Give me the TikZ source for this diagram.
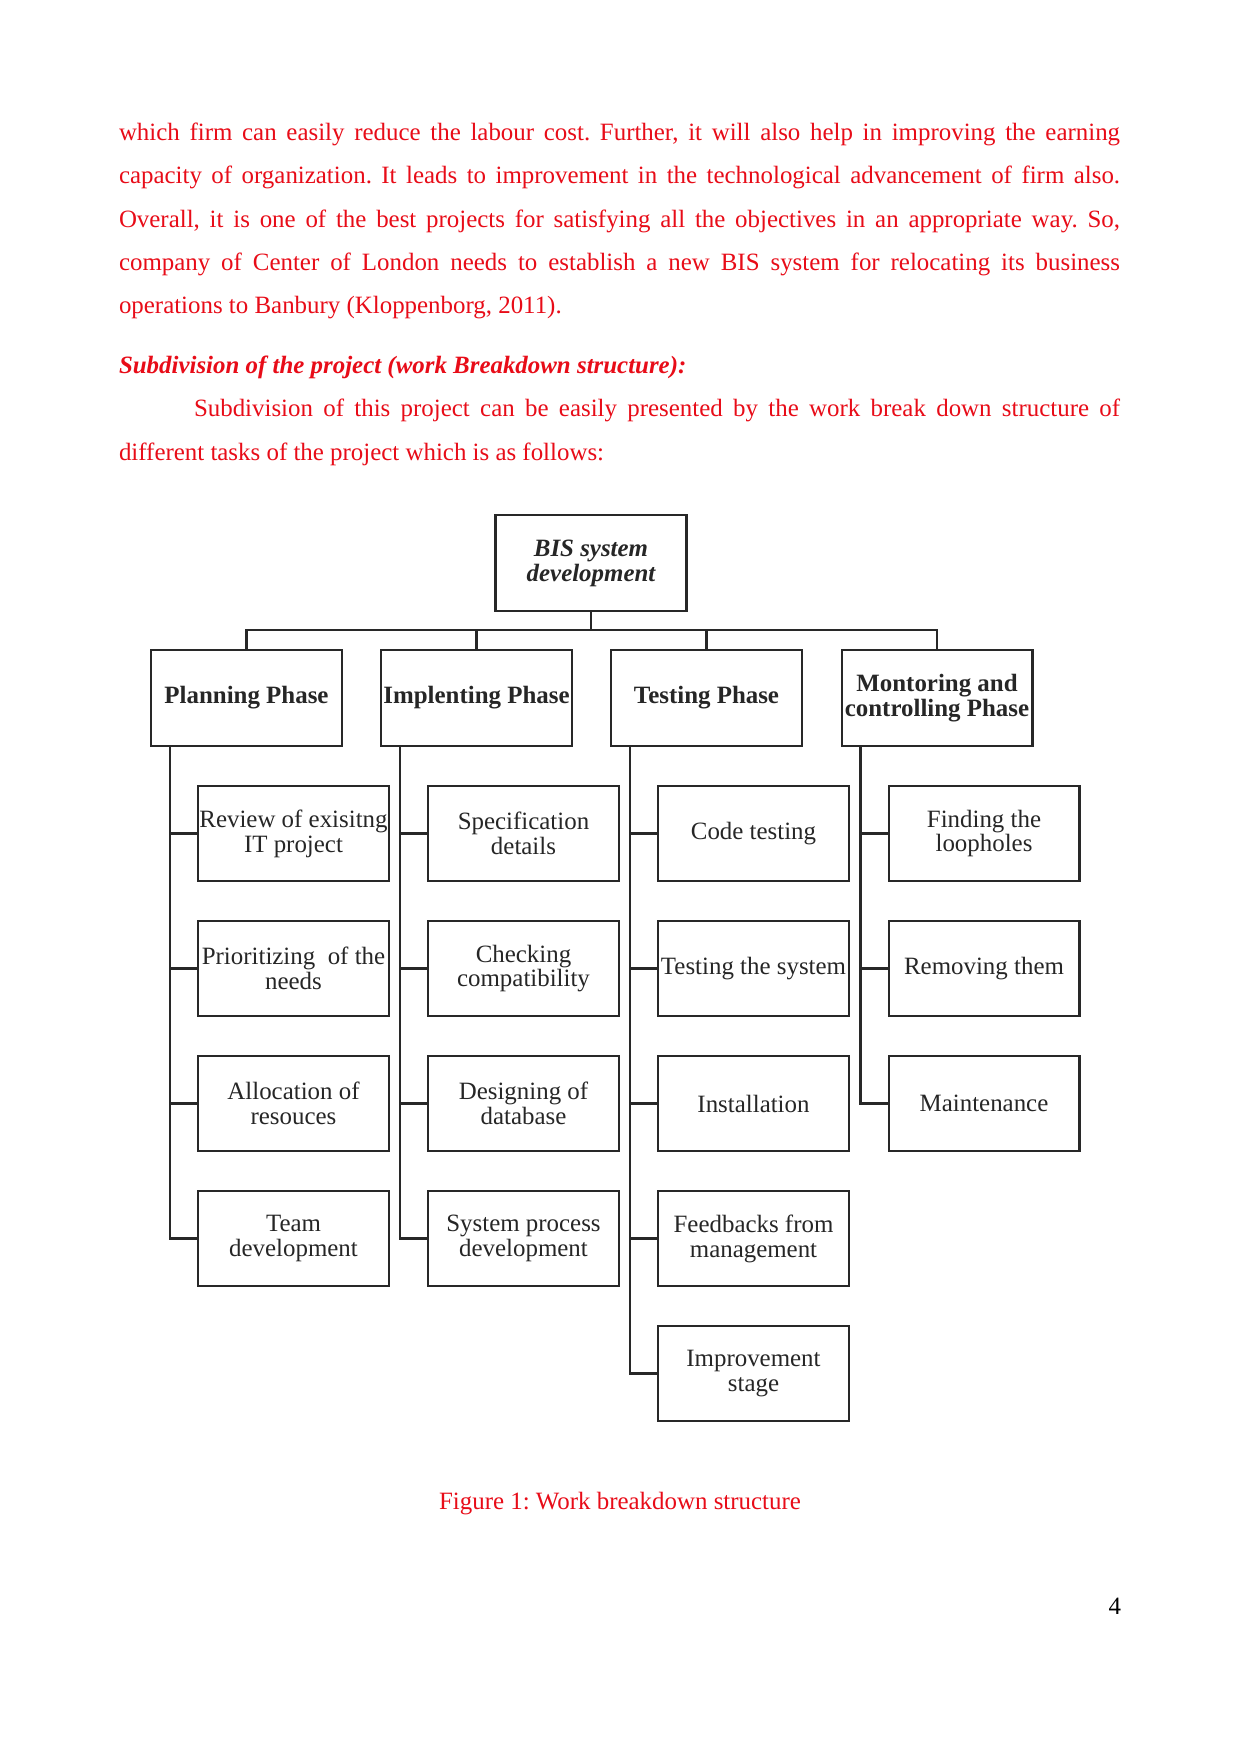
\documentclass[tikz,border=0pt]{standalone}
\usepackage{fontspec}
\setmainfont{Liberation Serif}
\usetikzlibrary{positioning}
\definecolor{bodyred}{RGB}{232,12,24}
\definecolor{linegray}{RGB}{40,40,40}
\frenchspacing
\begin{document}
\frenchspacing
\begin{tikzpicture}[x=0.4818pt,y=-0.4818pt,
  every node/.style={inner sep=0pt, outer sep=0pt},
  bodyline/.style={anchor=base west, text=bodyred, font=\fontsize{12}{14}\selectfont\frenchspacing},
  wbox/.style={draw=linegray, line width=1pt, minimum width=92pt, minimum height=46pt,
    align=center, font=\fontsize{12}{12}\selectfont, text=black!85},
  phasebox/.style={wbox, font=\fontsize{12}{12}\selectfont\bfseries},
  topbox/.style={wbox, font=\fontsize{12}{12}\selectfont\bfseries\itshape},
  link/.style={draw=linegray, line width=1pt}]
\useasboundingbox (0,0) rectangle (1241,1754);
\fill[white] (0,0) rectangle (1241,1754);

% body text
\node[bodyline] (l1) at (119,141) {\makebox[482.3pt][s]{which firm can easily reduce the labour cost. Further, it will also help in improving the earning}};
\node[bodyline] (l2) at (119,184) {\makebox[482.3pt][s]{capacity of organization. It leads to improvement in the technological advancement of firm also.}};
\node[bodyline] (l3) at (119,228) {\makebox[482.3pt][s]{Overall, it is one of the best projects for satisfying all the objectives in an appropriate way. So,}};
\node[bodyline] (l4) at (119,271) {\makebox[482.3pt][s]{company of Center of London needs to establish a new BIS system for relocating its business}};
\node[bodyline] (l5) at (119,314) {operations to Banbury (Kloppenborg, 2011).};
\node[bodyline, font=\fontsize{12}{14}\selectfont\bfseries\itshape] (hd) at (119,373) {Subdivision of the project (work Breakdown structure):};
\node[bodyline] (l6) at (194,416) {\makebox[446.2pt][s]{Subdivision of this project can be easily presented by the work break down structure of}};
\node[bodyline] (l7) at (119,460) {different tasks of the project which is as follows:};

% diagram
\node[topbox] (top) at (591,563) {BIS system\\development};
\node[phasebox] (p1) at (246.5,698) {Planning Phase};
\node[phasebox] (p2) at (476.5,698) {Implenting Phase};
\node[phasebox] (p3) at (706.5,698) {Testing Phase};
\node[phasebox] (p4) at (937,698) {Montoring and\\controlling Phase};

\node[wbox] (c11) at (293.5,833.5) {Review of exisitng\\IT project};
\node[wbox] (c12) at (293.5,968.5) {Prioritizing\ \ of the\\needs};
\node[wbox] (c13) at (293.5,1103.5) {Allocation of\\resouces};
\node[wbox] (c14) at (293.5,1238.5) {Team\\development};

\node[wbox] (c21) at (523.5,833.5) {Specification\\details};
\node[wbox] (c22) at (523.5,968.5) {Checking\\compatibility};
\node[wbox] (c23) at (523.5,1103.5) {Designing of\\database};
\node[wbox] (c24) at (523.5,1238.5) {System process\\development};

\node[wbox] (c31) at (753.5,833.5) {Code testing};
\node[wbox] (c32) at (753.5,968.5) {Testing the system};
\node[wbox] (c33) at (753.5,1103.5) {Installation};
\node[wbox] (c34) at (753.5,1238.5) {Feedbacks from\\management};
\node[wbox] (c35) at (753.5,1373.5) {Improvement\\stage};

\node[wbox] (c41) at (984,833.5) {Finding the\\loopholes};
\node[wbox] (c42) at (984,968.5) {Removing them};
\node[wbox] (c43) at (984,1103.5) {Maintenance};

\coordinate (bus) at (591,630);
\draw[link] (top.south) -- (bus);
\draw[link] (p1.north) |- (bus) -| (p4.north);
\draw[link] (p2.north) -- (p2.north |- bus);
\draw[link] (p3.north) -- (p3.north |- bus);

\coordinate (s1) at ([xshift=9.15pt]p1.south west);
\coordinate (s2) at ([xshift=9.15pt]p2.south west);
\coordinate (s3) at ([xshift=9.15pt]p3.south west);
\coordinate (s4) at ([xshift=9.15pt]p4.south west);

\draw[link] (s1) |- (c14.west);
\foreach \c in {c11,c12,c13} \draw[link] (\c.west) -- (\c.west -| s1);
\draw[link] (s2) |- (c24.west);
\foreach \c in {c21,c22,c23} \draw[link] (\c.west) -- (\c.west -| s2);
\draw[link] (s3) |- (c35.west);
\foreach \c in {c31,c32,c33,c34} \draw[link] (\c.west) -- (\c.west -| s3);
\draw[link] (s4) |- (c43.west);
\foreach \c in {c41,c42} \draw[link] (\c.west) -- (\c.west -| s4);

\node[bodyline, anchor=base] (cap) at (620,1509) {Figure 1: Work breakdown structure};
\node[anchor=base east, font=\fontsize{12}{14}\selectfont] (pg) at (1121,1614) {4};
\end{tikzpicture}
\end{document}
